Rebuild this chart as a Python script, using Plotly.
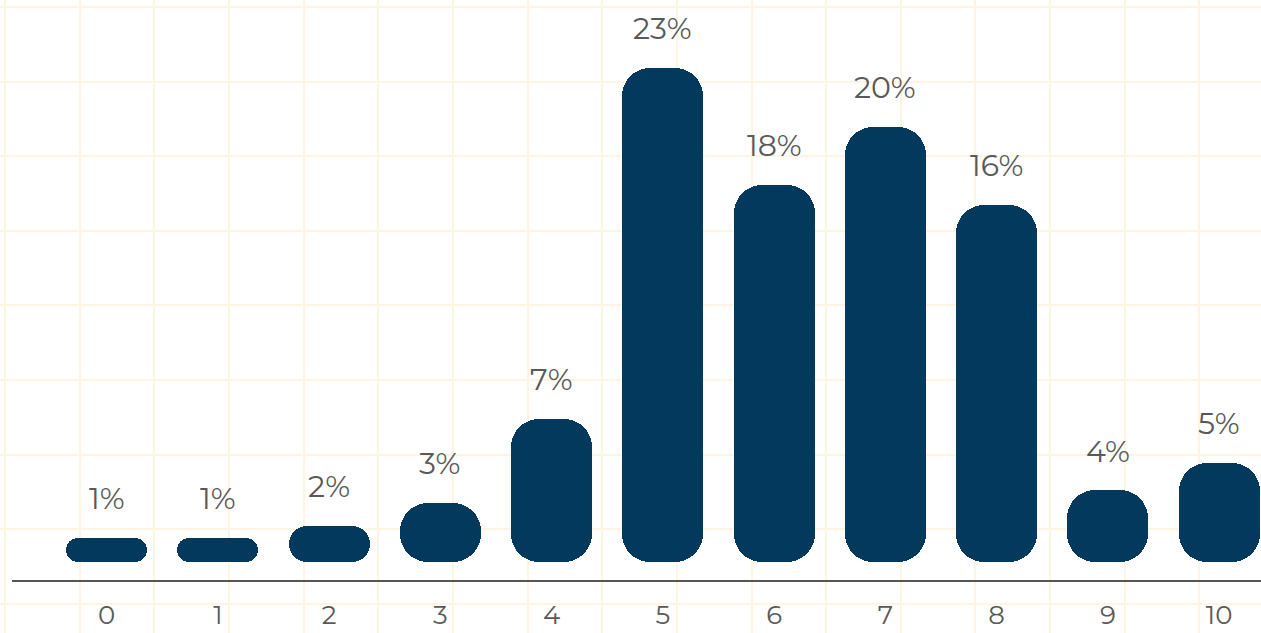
import plotly.graph_objects as go

# ---- data ----
categories = [0, 1, 2, 3, 4, 5, 6, 7, 8, 9, 10]
tick_labels = ["0", "1", "2", "3", "4", "5", "6", "7", "8", "9", "10"]
bar_values = [1.12, 1.12, 1.68, 2.75, 6.66, 23.0, 17.55, 20.25, 16.62, 3.35, 4.61]
value_labels = ["1%", "1%", "2%", "3%", "7%", "23%", "18%", "20%", "16%", "4%", "5%"]

# ---- style ----
W, H = 1261, 633
BAR_COLOR = "#03395c"
TEXT_COLOR = "#595959"
GRID_COLOR = "#fdf4e1"
FONT = "Montserrat, Lato, sans-serif"
MAX_RADIUS = 28

y_dom = [53 / H, 1.0]
x_dom = [12 / W, 1.0]
y_range = [-0.838, 26.16]
x_range = [-0.851, 10.376]
plot_h = H * (y_dom[1] - y_dom[0])
px_per_unit = plot_h / (y_range[1] - y_range[0])

fig = go.Figure()

# empty trace so the background grid subplot renders
fig.add_trace(go.Scatter(x=[], y=[], xaxis="x", yaxis="y", showlegend=False, hoverinfo="skip"))

# bars with an explicit base are rounded at both ends -> pill shapes
for c, v in zip(categories, bar_values):
    r = min(MAX_RADIUS, v * px_per_unit / 2)
    fig.add_trace(go.Bar(x=[c], y=[v], base=[0], width=0.728,
                         marker=dict(color=BAR_COLOR, line=dict(width=0), cornerradius=r),
                         xaxis="x2", yaxis="y2", showlegend=False, hoverinfo="skip"))

annotations = []
for c, v, t in zip(categories, bar_values, value_labels):
    annotations.append(dict(x=c, y=v, xref="x2", yref="y2", text=t, showarrow=False,
                            yanchor="middle", xanchor="center", yshift=39,
                            font=dict(family=FONT, size=30, color=TEXT_COLOR, weight=400)))

fig.update_layout(
    width=W, height=H,
    margin=dict(l=0, r=0, t=0, b=0, autoexpand=False),
    paper_bgcolor="white",
    plot_bgcolor="rgba(0,0,0,0)",
    barmode="overlay",
    bargap=0,
    annotations=annotations,
    xaxis=dict(domain=[0, 1], range=[0, W], anchor="y", showgrid=True, gridcolor=GRID_COLOR,
               gridwidth=2, tick0=5, dtick=74.65, showticklabels=False, zeroline=False,
               showline=False, ticks="", automargin=False),
    yaxis=dict(domain=[0, 1], range=[H, 0], anchor="x", showgrid=True, gridcolor=GRID_COLOR,
               gridwidth=2, tick0=7, dtick=74.6, showticklabels=False, zeroline=False,
               showline=False, ticks="", automargin=False),
    xaxis2=dict(domain=x_dom, range=x_range, anchor="y2", showgrid=False, zeroline=False,
                showline=True, linecolor="#555555", linewidth=2,
                tickmode="array", tickvals=categories, ticktext=tick_labels, ticks="",
                ticklabelstandoff=11, automargin=False,
                tickfont=dict(family=FONT, size=26, color=TEXT_COLOR, weight=400)),
    yaxis2=dict(domain=y_dom, range=y_range, anchor="x2", visible=False, automargin=False),
)

fig.write_html("out.html")
